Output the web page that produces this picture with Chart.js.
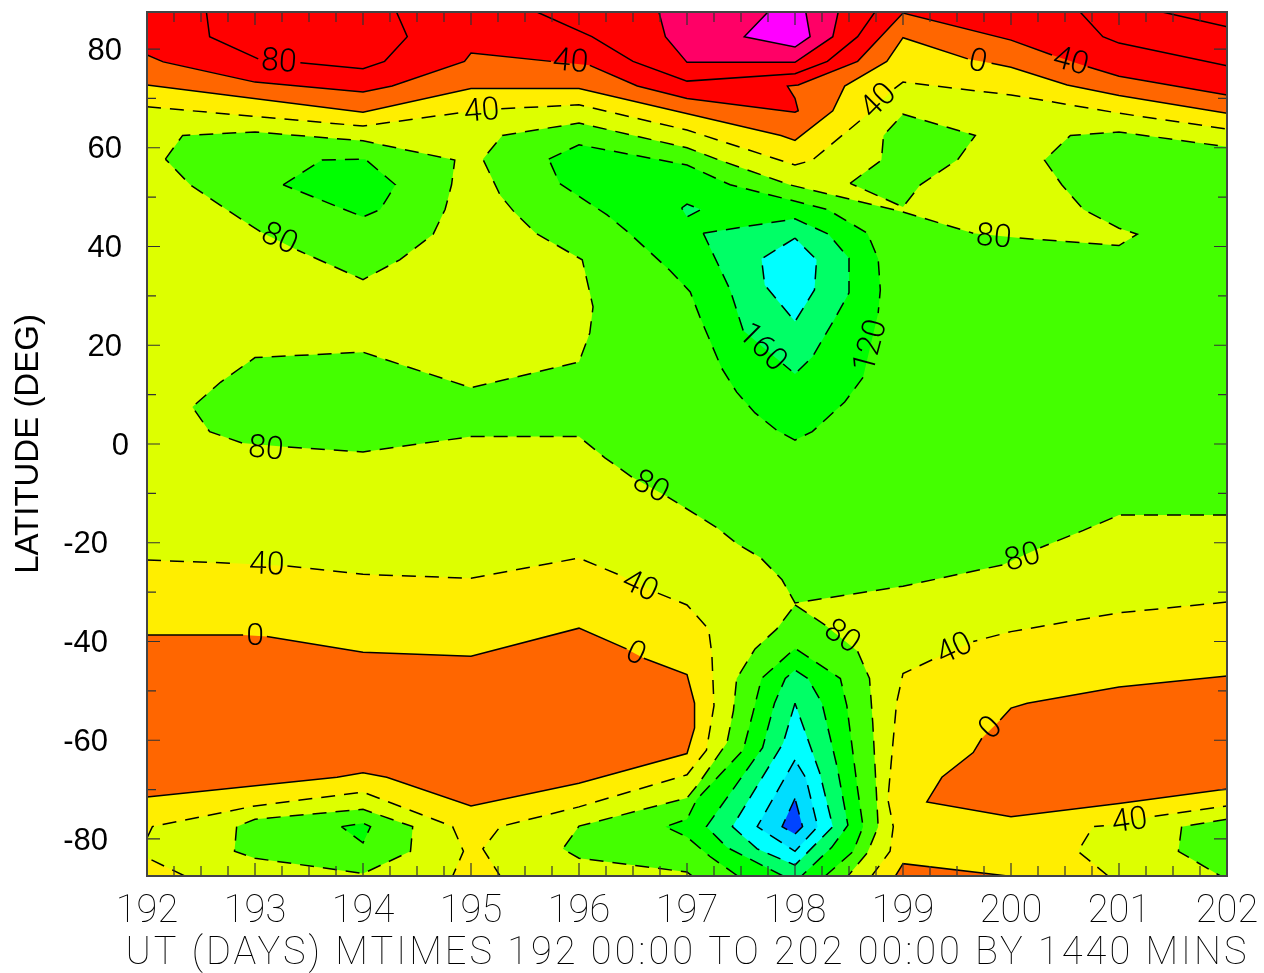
<!DOCTYPE html>
<html>
<head>
<meta charset="utf-8">
<title>Latitude / UT contours</title>
<script src="https://cdn.jsdelivr.net/npm/chart.js@4/dist/chart.umd.min.js"></script>
<style>
  html, body { margin: 0; padding: 0; background: #fff; }
  canvas { display: block; }
</style>
</head>
<body>
<canvas id="contourChart" width="1264" height="973"></canvas>
<script>
// axis values
const dayTicks = [192, 193, 194, 195, 196, 197, 198, 199, 200, 201, 202];
const latTicks = [-80, -60, -40, -20, 0, 20, 40, 60, 80];
const latMinorTicks = [-70, -50, -30, -10, 10, 30, 50, 70];
const xTitle = 'UT (DAYS) MTIMES 192 00:00 TO 202 00:00 BY 1440 MINS';
const yTitle = 'LATITUDE (DEG)';

// contours as [day, latitude], null = gap left for a contour label
const north40 = [[192,68.3],[194,64.4],[194.9,67.1],null,[195.28,67.9],[196,68.7],[197,63.6],[198,56.5],[198.16,57.5],[198.63,66],null,[198.92,72],[199,73.3],[200,70.7],[201,67],[202,63.8]];
const north0 = [[192,72.7],[194,67.2],[195,72],[196,72],[197.87,62.5],[198,61.5],[198.35,67.5],[198.46,72.5],[198.85,77.5],[199,82.3],[199.6,78],null,[199.82,77.1],[200,76.3],[200.52,72.7],[201,70.6],[202,67]];
const northM40 = [[192,78.8],[192.15,77.4],[193,73.3],[194,71.3],[194.27,72.5],[194.94,77.5],[195,79.2],[195.74,77.5],null,[196.1,76.7],[196.54,72.5],[197,70],[198,67.2],[198.03,67.5],[198,70],[197.93,72.5],[198.03,72.7],[198.58,77.5],[199,87.3],[200,81.8],[200.38,78.8],null,[200.71,76.4],[201,74.5],[202,70.7]];
const northM80a = [[192.55,87.5],[192.58,82.5],[193.03,78],null,[193.42,77.2],[194,76],[194.2,77.5],[194.41,82.5],[194.31,87.5]];
const northM80b = [[195.61,87.5],[196.12,82.5],[196.5,77.5],[197,73.5],[198,75],[198.3,77.5],[198.58,82.5],[198.74,87.5]];
const northM80c = [[200.64,87.5],[200.85,82.5],[201,81.2],[202,76.6]];
const northM80d = [[201.4,87.5],[202,84.5]];
const pinkTop = [[196.74,87.5],[196.8,82.5],[197,77.3],[198,77.3],[198.35,82.5],[198.4,87.5]];
const magentaTop = [[197.75,87.5],[197.53,82.5],[198,80.4],[198.14,82.5],[198.1,87.5]];

const south40West = [[192,-23.5],[192.85,-24.2],null,[193.3,-24.7],[194,-26.4],[195,-27.2],[196,-23.1],[196.37,-26.5],null,[196.73,-30.2],[197,-32.6],[197.2,-37.5],[197.23,-42.5],[197.25,-53],[197.18,-62],[197,-67],[196,-73.5],[195.27,-77.5],[195.11,-82],[195.27,-87.5]];
const south40East = [[202,-32],[201,-34.2],[200,-38],[199.65,-40],null,[199.27,-43.7],[199,-46.5],[198.94,-52.5],[198.86,-72],[198.91,-77.5],[198.88,-82.5],[198.71,-87.5]];
const orangeWest = [[192,-38.7],[192.89,-38.7],null,[193.11,-39],[194,-42.2],[195,-43],[196,-37.3],[196.44,-41.5],null,[196.6,-43.4],[197,-46.7],[197.07,-52.5],[197.07,-57.5],[197,-62.7],[196,-68.7],[195,-73.3],[194.22,-67.5],[194,-66.6],[193.76,-67.5],[192,-71.5]];
const orangeEast = [[202,-47],[201,-49.2],[200.15,-52.5],[200,-53.5],[199.9,-55.9],null,[199.73,-59.6],[199.65,-62.5],[199.36,-67.5],[199.22,-72.5],[200,-75.5],[201,-72.8],[202,-69.9]];
const orangeBottom = [[198.93,-87.5],[199,-85],[199.97,-87.5]];
const limeSouthWest = [[192,-79.8],[192.05,-77.5],[193,-73.3],[194,-70.5],[194.83,-77.5],[194.93,-82.5],[194.83,-87.5]];
const yellowSouthWest = [[192.35,-87.5],[192,-83.8]];
const limeSouthEast = [[200.9,-87.5],[200.62,-82.5],[200.76,-77.5],[200.86,-77.3],null,[201.33,-75.4],[202,-73.3]];

const greenNorthWest = [[192.17,57.7],[192.33,62.5],[193,63.2],[194,61.4],[194.85,57.5],[194.82,52.5],[194.76,47.5],[194.65,42.5],[194.34,37.3],[194,33.3],[193.39,39.3],null,[193.05,43],[192.77,47],[192.4,52.5],[192.17,57.7]];
const greenMain = [[202,-14.4],[201,-14.4],[200.67,-17.5],[200.27,-21],null,[199.92,-24.5],[199,-28.8],[198,-32.2],[197.88,-27.5],[197.68,-23],[197.47,-20.3],[197.28,-17],[196.82,-10.7],null,[196.49,-6.7],[196.24,-2.8],[196,1.5],[195,1.5],[194,-1.6],[193.3,-0.6],null,[192.88,0.2],[192.58,2.5],[192.42,7.5],[192.68,12.5],[193,17.5],[194,18.6],[195,11.4],[196,16.6],[196.1,22.5],[196.13,27.8],[196.03,37.3],[195.6,42.7],[195.4,47],[195.27,50.4],[195.11,57.7],[195.29,62.5],[196,65],[197,60],[197.3,57.5],[197.95,52.5],[199,47],[199.65,42.7],null,[200.08,41.7],[201,40.2],[201.17,42.5],[201,43.7],[200.67,47.5],[200.47,52.5],[200.31,57.5],[200.55,62.5],[201,63.2],[202,60.2]];
const greenPatch199 = [[198.51,52.8],[198.8,57.5],[198.82,62.5],[199,66.8],[199.67,62.5],[199.51,57.7],[199.16,52.5],[199,48],[198.51,52.8]];
const greenSouthWest = [[192.83,-77.5],[192.81,-82.5],[193,-83.9],[194,-87],[194.44,-82.5],[194.46,-77.5],[194,-74],[193,-76],[192.83,-77.5]];
const greenSouthEast = [[202,-76],[201.58,-77.5],[201.55,-82.5],[201.94,-87.5]];
const greenPlume = [[198,-32.6],[198.28,-36.7],null,[198.58,-42],[198.69,-47.5],[198.72,-56.5],[198.77,-77.5],[198.67,-82.8],[198.49,-87.5],[197.05,-87.5],[197,-86.7],[196,-83.9],[195.85,-82],[196,-77.4],[197,-71.7],[197.1,-69],[197.37,-60.5],[197.43,-54],[197.46,-47.5],[197.63,-41.5],[197.83,-37.5],[198,-32.6]];

const brightNorthWest = [[193.26,52.5],[193.62,57.5],[194.02,57.7],[194.3,52.5],[194.16,47.5],[194,46],[193.26,52.5]];
const brightNorth = [[195.72,57.7],[196,60.6],[197,56.5],[197.4,52.5],[198.3,47.5],[198.67,42.7],[198.77,37.5],[198.79,31.2],[198.77,26.5],null,[198.63,13.5],[198.46,8.5],[198.16,2.5],[198,0.8],[197.83,2.8],[197.63,6.3],[197.46,10.5],[197.32,15.4],[197.12,25.7],[197.03,30.8],[196.84,35.2],[196.45,43],[196.26,46.4],[195.82,52.8],[195.72,57.7]];
const brightPlume = [[197.47,-87.5],[197.21,-83.5],[197,-79.6],[196.8,-77.5],[197,-76],[197.09,-72],[197.52,-62],[197.61,-54.5],[197.69,-47.5],[198,-41.4],[198.42,-47.5],[198.48,-53],[198.58,-70],[198.63,-77.5],[198.54,-82.5],[198.28,-87.5]];
const brightSouthWest = [[193.8,-77.5],[194,-76.8],[194.07,-77.5],[194,-80.8],[193.8,-77.5]];

const springNorth = [[197.15,42.7],[198,45.6],[198.31,42.5],[198.5,37.6],[198.5,30.6],[198.35,24.7],[198.16,17.6],[198,14.2],[197.89,16.2],null,[197.52,23],[197.4,31.2],[197.15,42.7]];
const springSmall = [[196.95,47.8],[197,48.6],[197.13,47.5],[197,46],[196.95,47.8]];
const springPlume = [[197.89,-87.5],[197.37,-81.7],[197.18,-77.5],[197.7,-61.5],[197.81,-52.5],[197.91,-47.5],[198,-45.8],[198.12,-47.5],[198.25,-52.5],[198.39,-65.4],[198.49,-77.2],[198.34,-81.7],[198.06,-87.5]];

const cyanNorth = [[198,41.7],[197.69,37.5],[197.72,32.2],[198,24.8],[198.18,31.2],[198.2,37.3],[198,41.7]];
const cyanPlume = [[198,-52.5],[197.89,-60.6],[197.42,-77.5],[197.65,-82],[198,-85.3],[198.35,-77.5],[198.23,-66.7],[198,-52.5]];
const skyPlume = [[198,-64],[197.65,-77.5],[198,-82.5],[198.21,-77.5],[198.1,-67.6],[198,-64]];
const bluePlume = [[198,-71.8],[197.88,-77.5],[198,-79],[198.07,-77.5],[198,-71.8]];

// labels sitting on the contours: text, day, latitude, angle
const labelTexts = ['80','40','40','40','0','40','80','80','160','120','80','80','40','40','0','0','80','40','80','0','40'];
const labelDays = [193.22,195.92,195.1,198.78,199.69,200.55,193.22,199.84,197.69,198.71,193.1,196.66,193.11,196.56,193,196.52,198.43,199.48,200.11,199.82,201.1];
const labelLats = [77.4,77.4,67.4,69.5,77.4,77.4,41.5,41.9,19.6,20,-1,-8.7,-24.5,-28.8,-38.9,-42.5,-39,-41.5,-23,-57.5,-76.4];
const labelAngles = [4,5,-5,-45,12,15,25,5,45,-75,5,28,2,25,0,25,35,-25,-15,-45,-8];

const YELLOW = '#FFEE00', ORANGE = '#FF6600', RED = '#FF0000', PINK = '#FF0066', MAGENTA = '#FF00FF';
const LIME = '#DDFF00', GREEN = '#44FF00', BRIGHT = '#00FF00', SPRING = '#00FF66', CYAN = '#00FFFF', SKY = '#00DDFF', BLUE = '#0044FF';
const DASH = [14, 9];

// back to front: line, corners closing the fill along the frame, colour, dashed
const layers = [
  [north40, [[202,87.5],[192,87.5]], YELLOW, true],
  [north0, [[202,87.5],[192,87.5]], ORANGE, false],
  [northM40, [[202,87.5],[192,87.5]], RED, false],
  [northM80a, [], null, false],
  [northM80b, [], null, false],
  [northM80c, [], null, false],
  [northM80d, [], null, false],
  [pinkTop, [], PINK, false],
  [magentaTop, [], MAGENTA, false],
  [south40West, [[192,-87.5]], YELLOW, true],
  [south40East, [[202,-87.5]], YELLOW, true],
  [orangeWest, [], ORANGE, false],
  [orangeEast, [], ORANGE, false],
  [orangeBottom, [], ORANGE, false],
  [limeSouthWest, yellowSouthWest, LIME, true],
  [yellowSouthWest, [], null, true],
  [limeSouthEast, [[202,-87.5]], LIME, true],
  [greenNorthWest, [], GREEN, true],
  [greenMain, [], GREEN, true],
  [greenPatch199, [], GREEN, true],
  [greenSouthWest, [], GREEN, true],
  [greenSouthEast, [[202,-87.5]], GREEN, true],
  [greenPlume, [], GREEN, true],
  [brightNorthWest, [], BRIGHT, true],
  [brightNorth, [], BRIGHT, true],
  [brightPlume, [], BRIGHT, true],
  [brightSouthWest, [], BRIGHT, true],
  [springNorth, [], SPRING, true],
  [springSmall, [], SPRING, true],
  [springPlume, [], SPRING, true],
  [cyanNorth, [], CYAN, true],
  [cyanPlume, [], CYAN, true],
  [skyPlume, [], SKY, true],
  [bluePlume, [], BLUE, true]
];

function toXY(p) {
  return p ? { x: p[0], y: p[1] } : { x: null, y: null };
}

const datasets = [];
layers.forEach(function(layer) {
  const line = layer[0], corners = layer[1], colour = layer[2], dashed = layer[3];
  if (colour) {
    const shape = line.filter(function(p) { return p; }).concat(corners).map(toXY);
    datasets.push({ data: shape, showLine: true, pointRadius: 0, borderWidth: 0, fill: 'shape', backgroundColor: colour, borderColor: 'transparent', order: -datasets.length });
  }
  datasets.push({ data: line.map(toXY), showLine: true, pointRadius: 0, borderWidth: 1.5, borderColor: '#000', borderDash: dashed ? DASH : [], fill: false, spanGaps: false, order: -datasets.length });
});

const framePlugin = {
  id: 'contourFrame',
  beforeDatasetsDraw: function(chart) {
    const a = chart.chartArea, ctx = chart.ctx;
    ctx.save();
    ctx.fillStyle = LIME;
    ctx.fillRect(a.left, a.top, a.right - a.left, a.bottom - a.top);
    ctx.restore();
  },
  afterDatasetsDraw: function(chart) {
    const a = chart.chartArea, ctx = chart.ctx, xs = chart.scales.x, ys = chart.scales.y;
    ctx.save();
    ctx.strokeStyle = '#333';
    ctx.lineWidth = 1.2;
    ctx.beginPath();
    for (let i = 0; i <= 40; i++) {
      const px = xs.getPixelForValue(192 + i * 0.25);
      const len = i % 4 === 0 ? 13 : 10;
      ctx.moveTo(px, a.bottom); ctx.lineTo(px, a.bottom - len);
      ctx.moveTo(px, a.top); ctx.lineTo(px, a.top + len);
    }
    latTicks.concat(latMinorTicks).forEach(function(v) {
      const py = ys.getPixelForValue(v);
      const len = latTicks.indexOf(v) >= 0 ? 13 : 9;
      ctx.moveTo(a.left, py); ctx.lineTo(a.left + len, py);
      ctx.moveTo(a.right, py); ctx.lineTo(a.right - len, py);
    });
    ctx.stroke();
    ctx.strokeStyle = '#444';
    ctx.lineWidth = 2;
    ctx.strokeRect(a.left, a.top, a.right - a.left, a.bottom - a.top);

    // contour labels
    ctx.fillStyle = '#000';
    ctx.font = '300 32px Roboto';
    ctx.textAlign = 'center';
    ctx.textBaseline = 'middle';
    labelTexts.forEach(function(t, i) {
      ctx.save();
      ctx.translate(xs.getPixelForValue(labelDays[i]), ys.getPixelForValue(labelLats[i]) + 1);
      ctx.rotate(labelAngles[i] * Math.PI / 180);
      ctx.fillText(t, 0, 0);
      ctx.restore();
    });

    // latitude numbers, offset from the axis by their length
    const rightEdge = { 1: 129, 2: 122, 3: 108 };
    ctx.font = '31px "Liberation Sans"';
    ctx.textAlign = 'right';
    latTicks.forEach(function(v) {
      const t = String(v);
      ctx.fillText(t, rightEdge[t.length], ys.getPixelForValue(v) + 2);
    });

    // x title, spread to the width of the plot labels
    ctx.font = '100 38px Roboto';
    ctx.textAlign = 'center';
    const natural = ctx.measureText(xTitle).width;
    ctx.letterSpacing = ((1121 - natural) / (xTitle.length - 1)) + 'px';
    ctx.fillText(xTitle, 687.5, 954);
    ctx.restore();
  }
};

new Chart(document.getElementById('contourChart').getContext('2d'), {
  type: 'scatter',
  data: { datasets: datasets },
  plugins: [framePlugin],
  options: {
    responsive: false,
    animation: false,
    events: [],
    layout: { padding: { left: 0, top: 12, right: 37, bottom: 0 } },
    plugins: { legend: { display: false }, tooltip: { enabled: false }, title: { display: false } },
    scales: {
      x: {
        type: 'linear',
        min: dayTicks[0],
        max: dayTicks[dayTicks.length - 1],
        afterFit: function(scale) { scale.height = 97; scale.paddingLeft = 0; scale.paddingRight = 0; },
        grid: { display: false, drawTicks: false },
        border: { display: false },
        ticks: { stepSize: 1, autoSkip: false, maxRotation: 0, padding: 14, color: '#000', font: { family: 'Roboto', size: 38, weight: 100 } }
      },
      y: {
        type: 'linear',
        min: -87.5,
        max: 87.5,
        afterFit: function(scale) { scale.width = 147; scale.paddingTop = 0; scale.paddingBottom = 0; },
        grid: { display: false, drawTicks: false },
        border: { display: false },
        ticks: { display: false, stepSize: 20, includeBounds: false },
        title: { display: true, text: yTitle, color: '#000', padding: { top: 9, bottom: 0 }, font: { family: 'Liberation Sans', size: 33, weight: 'normal' } }
      }
    }
  }
});
</script>
</body>
</html>
